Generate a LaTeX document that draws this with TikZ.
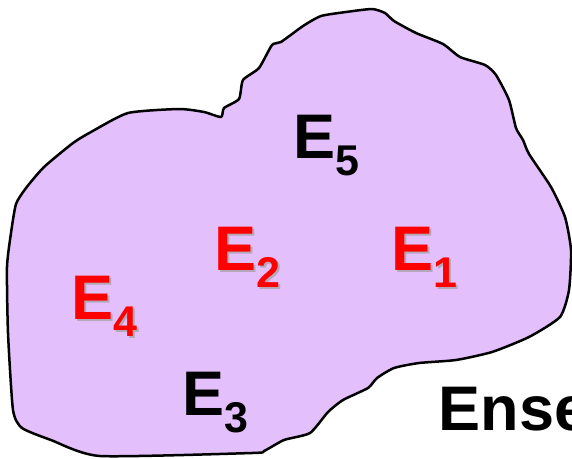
\documentclass[tikz,border=0pt]{standalone}
\usepackage{fontspec}
\setmainfont{Liberation Sans}
\definecolor{blobfill}{HTML}{E3BFFB}
\definecolor{labred}{HTML}{FF0000}
\definecolor{labshadow}{HTML}{B4A8B8}
\newcommand\subdigit[1]{\raisebox{-17pt}{\fontsize{43pt}{43pt}\selectfont #1}}
\newcommand\shadowtext[1]{\rlap{\hspace{2pt}\raisebox{-2pt}{\color{labshadow}#1}}#1}
\tikzset{
  lab/.style={anchor=base west, inner sep=0pt, font=\fontsize{63pt}{63pt}\selectfont\bfseries},
  blacklab/.style={lab, text=black},
  redlab/.style={lab, text=labred},
  blob/.style={draw=black, line width=2.5pt, fill=blobfill, line join=round}
}
\begin{document}
\begin{tikzpicture}[x=1pt,y=-1pt]
\useasboundingbox (0,0) rectangle (572,458);
\draw[blob] plot[smooth cycle, tension=0.35] coordinates {
 (372,9) (385,13) (394,21) (416,33) (443,44) (460,57) (485,65) (496,75)
 (509,100) (516,128) (523,140) (529,154) (551,187) (565,217) (571,250)
 (569,290) (560,317) (529,337) (492,352) (456,360) (419,363) (394,368)
 (377,378) (368,388) (343,400) (328,412) (310,433) (284,440) (264,451)
 (252,453) (100,456) (51,440) (22,428) (13,410) (8,333) (7,267) (11,233)
 (16,204) (26,188) (44,167) (73,143) (91,132) (128,113) (179,109) (204,112)
 (221,117) (224,108) (239,99) (243,80) (259,68) (272,45) (281,42) (303,26)
 (321,16) (346,12)};
% labels
\node[blacklab] (e5) at (293.4,158) {E\subdigit{5}};
\node[redlab] (e2) at (214.4,270) {\shadowtext{E\subdigit{2}}};
\node[redlab] (e1) at (391.4,270) {\shadowtext{E\subdigit{1}}};
\node[redlab] (e4) at (71.4,319) {\shadowtext{E\subdigit{4}}};
\node[blacklab] (e3) at (182.4,415) {E\subdigit{3}};
\node[blacklab] (ens) at (438.4,430) {Ense};
\end{tikzpicture}
\end{document}
